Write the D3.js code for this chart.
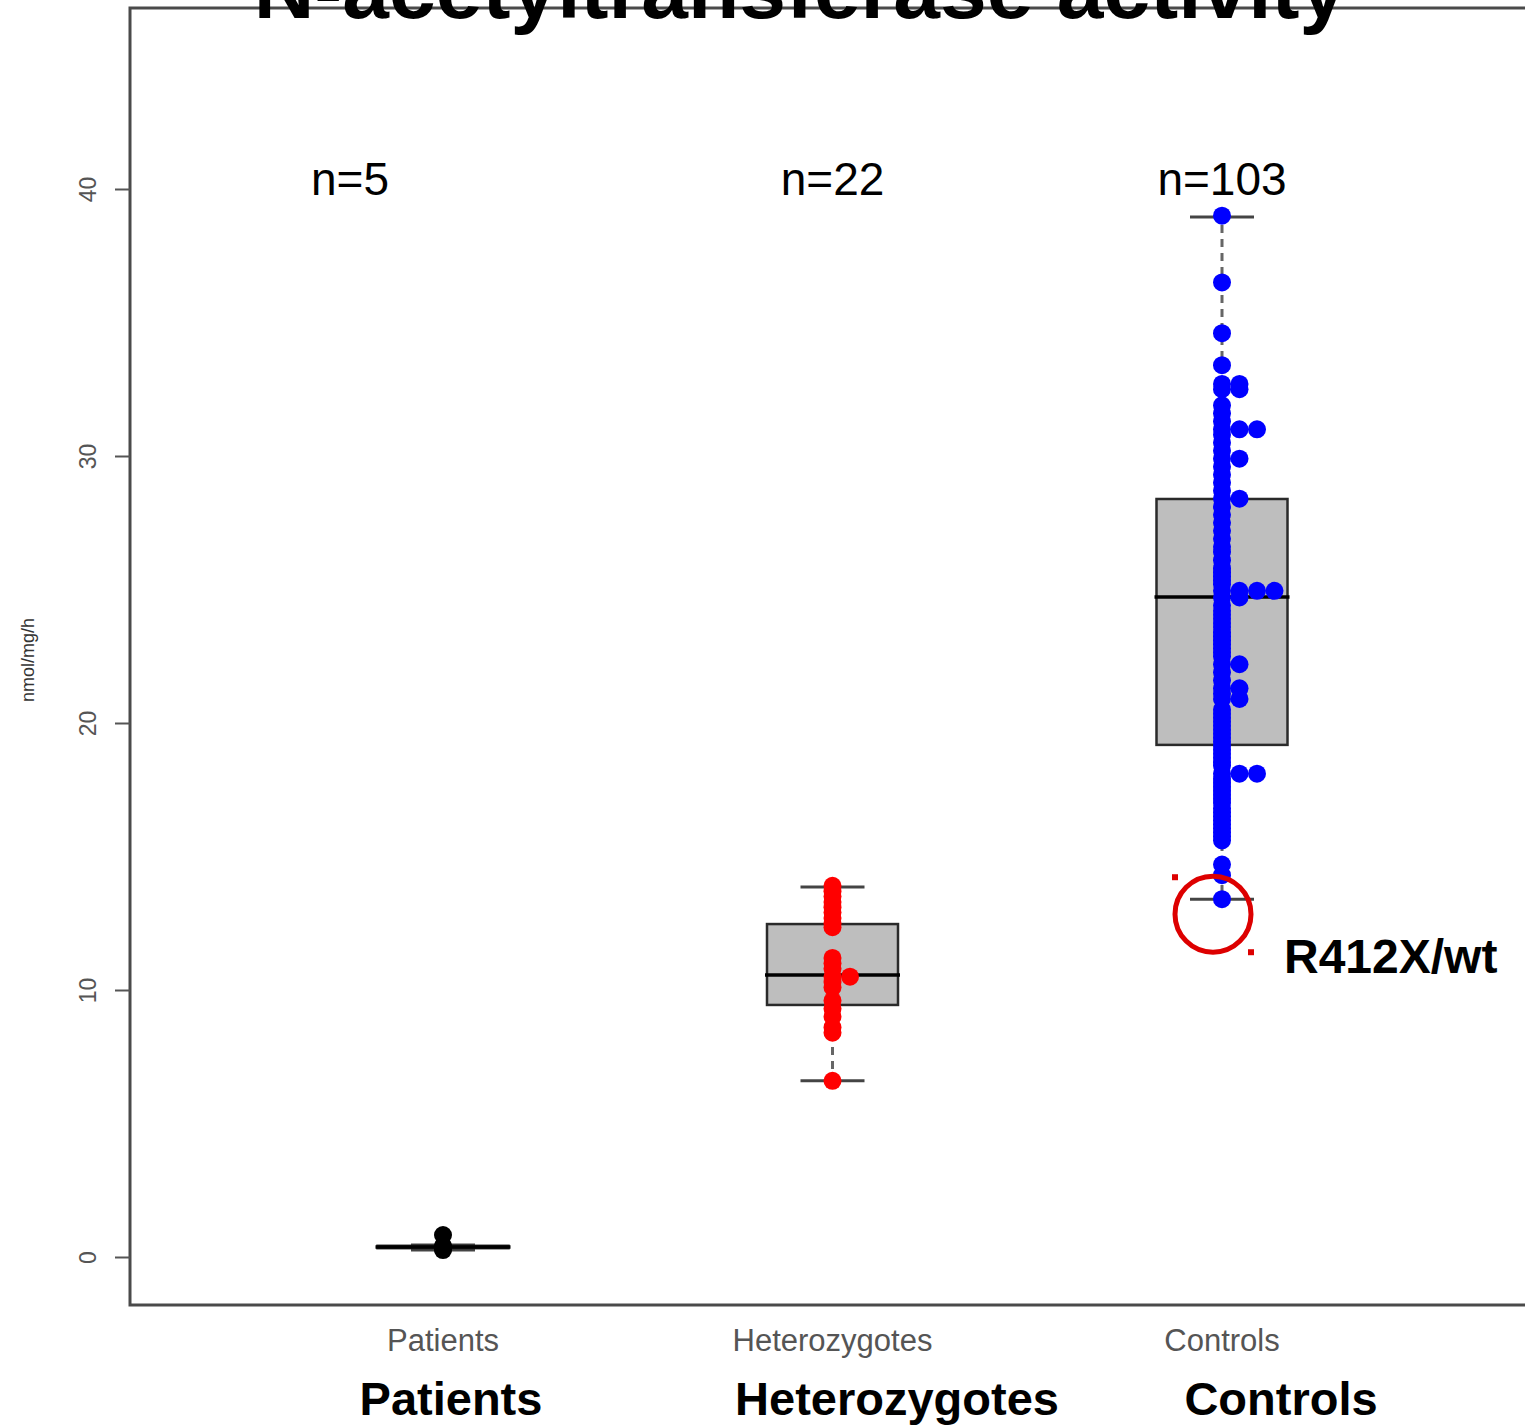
<!DOCTYPE html>
<html>
<head>
<meta charset="utf-8">
<script src="https://cdn.jsdelivr.net/npm/d3@7"></script>
<style>
  html, body { margin: 0; padding: 0; background: #fff; }
  svg { display: block; font-family: "Liberation Sans", Arial, sans-serif; }
</style>
</head>
<body>
<svg id="chart" width="1525" height="1428"></svg>
<script>
"use strict";

// groups and annotations
const groups = ["Patients", "Heterozygotes", "Controls"];
const countLabels = ["n=5", "n=22", "n=103"];
const pointColors = ["#000000", "#ff0000", "#0000ff"];
const yTicks = [0, 10, 20, 30, 40];

// raw values (nmol/mg/h)
const patients = [0.82, 0.42, 0.37, 0.30, 0.26];
const heterozygotes = [
  13.9, 13.7, 13.5, 13.3, 13.1, 12.9, 12.7, 12.5, 12.35,
  11.2, 11.0, 10.8, 10.5, 10.5, 10.3, 10.1, 9.6, 9.3, 9.0, 8.6, 8.4,
  6.6
];
const controls = [
  13.4, 14.3, 14.7,
  15.6, 15.75, 15.9, 16.05, 16.2, 16.35, 16.5, 16.65, 16.8, 17.0, 17.15,
  17.3, 17.45, 17.6, 17.75, 17.9,
  18.1, 18.1, 18.1,
  18.4, 18.55, 18.7, 18.85, 19.0, 19.15, 19.3, 19.45, 19.6, 19.75, 19.9,
  20.05, 20.2, 20.35, 20.5,
  20.9, 20.9, 21.1, 21.3, 21.3, 21.6, 21.9, 22.2, 22.2,
  22.5, 22.65, 22.8, 22.95, 23.1, 23.25, 23.4, 23.6, 23.75, 23.9, 24.05,
  24.2, 24.4,
  24.7, 24.7, 24.95, 24.95, 24.95, 24.95,
  25.2, 25.35, 25.5, 25.65, 25.8, 26.1, 26.4, 26.6, 26.9, 27.2, 27.5,
  27.8, 28.1,
  28.4, 28.4, 28.7, 29.0, 29.3, 29.6, 29.9, 29.9,
  30.2, 30.5, 30.8, 31.0, 31.0, 31.0, 31.3, 31.6, 31.9,
  32.5, 32.5, 32.7, 32.7,
  33.4, 34.6, 36.5, 39.0
];
const groupValues = [patients, heterozygotes, controls];

// box statistics per group
const whiskerLow = [0.26, 6.6, 13.4];
const quart1 = [0.33, 9.44, 19.18];
const medians = [0.37, 10.56, 24.72];
const quart3 = [0.42, 12.47, 28.39];
const whiskerHigh = [0.45, 13.86, 38.95];

const mutantValue = 13.4;
const mutantLabel = "R412X/wt";

const svg = d3.select("#chart");

const x = d3.scalePoint().domain(groups).range([443, 1222]);
const y = d3.scaleLinear().domain([0, 40]).range([1257, 189]);

const boxW = 131, capW = 64, stackStep = 17.5, dotR = 9;

// frame
const frame = svg.append("g")
  .attr("fill", "none")
  .attr("stroke", "#4a4a4a")
  .attr("stroke-width", 3);
frame.append("path").attr("d", "M1525,8H130V1305H1525");

// y axis
const yAxis = svg.append("g")
  .attr("transform", "translate(130,0)")
  .call(d3.axisLeft(y).tickValues(yTicks).tickSize(15).tickPadding(0));
yAxis.select(".domain").remove();
yAxis.selectAll(".tick line").attr("stroke", "#555").attr("stroke-width", 2);
yAxis.selectAll(".tick text")
  .attr("transform", "translate(-42,0) rotate(-90)")
  .attr("x", 0).attr("y", 0).attr("dy", "0.35em")
  .attr("text-anchor", "middle")
  .attr("fill", "#555")
  .style("font-size", "23px")
  .style("font-family", "'Liberation Sans Narrow', 'Liberation Sans', Arial");

svg.append("text")
  .attr("transform", "translate(34,660) rotate(-90)")
  .attr("text-anchor", "middle")
  .attr("fill", "#333")
  .style("font-size", "18px")
  .style("font-family", "'Liberation Sans Narrow', 'Liberation Sans', Arial")
  .text("nmol/mg/h");

// boxplots
const boxes = svg.append("g").selectAll("g")
  .data(groups)
  .join("g")
  .attr("transform", (d) => "translate(" + x(d) + ",0)");

boxes.append("line")
  .attr("y1", (d, i) => y(quart3[i])).attr("y2", (d, i) => y(whiskerHigh[i]))
  .attr("stroke", "#666").attr("stroke-width", 3).attr("stroke-dasharray", "8,6");
boxes.append("line")
  .attr("y1", (d, i) => y(quart1[i])).attr("y2", (d, i) => y(whiskerLow[i]))
  .attr("stroke", "#666").attr("stroke-width", 3).attr("stroke-dasharray", "8,6");
boxes.append("line")
  .attr("x1", -capW / 2).attr("x2", capW / 2)
  .attr("y1", (d, i) => y(whiskerHigh[i])).attr("y2", (d, i) => y(whiskerHigh[i]))
  .attr("stroke", "#444").attr("stroke-width", 3);
boxes.append("line")
  .attr("x1", -capW / 2).attr("x2", capW / 2)
  .attr("y1", (d, i) => y(whiskerLow[i])).attr("y2", (d, i) => y(whiskerLow[i]))
  .attr("stroke", "#444").attr("stroke-width", 3);
boxes.append("rect")
  .attr("x", -boxW / 2).attr("width", boxW)
  .attr("y", (d, i) => y(quart3[i]))
  .attr("height", (d, i) => y(quart1[i]) - y(quart3[i]))
  .attr("fill", "#bebebe").attr("stroke", "#2a2a2a").attr("stroke-width", 2.5);
boxes.append("line")
  .attr("x1", -boxW / 2 - 2).attr("x2", boxW / 2 + 2)
  .attr("y1", (d, i) => y(medians[i])).attr("y2", (d, i) => y(medians[i]))
  .attr("stroke", "#000").attr("stroke-width", 3.5);

// stacked strip points: equal values sit side by side
groups.forEach((g, gi) => {
  const seen = new Map();
  const pts = groupValues[gi].map((v) => {
    const k = seen.get(v) || 0;
    seen.set(v, k + 1);
    return { v: v, k: k };
  });
  svg.append("g").selectAll("circle")
    .data(pts)
    .join("circle")
    .attr("cx", (d) => x(g) + d.k * stackStep)
    .attr("cy", (d) => y(d.v))
    .attr("r", dotR)
    .attr("fill", pointColors[gi]);
});

// n labels
const nX = [350, x("Heterozygotes"), x("Controls")];
svg.append("g").selectAll("text")
  .data(countLabels)
  .join("text")
  .attr("x", (d, i) => nX[i])
  .attr("y", 195)
  .attr("text-anchor", "middle")
  .style("font-size", "46px")
  .text((d) => d);

// category tick labels
svg.append("g").selectAll("text")
  .data(groups)
  .join("text")
  .attr("x", (d) => x(d))
  .attr("y", 1351)
  .attr("text-anchor", "middle")
  .attr("fill", "#555")
  .style("font-size", "31px")
  .text((d) => d);

// big bold labels
const bigX = [451, 897, 1281];
svg.append("g").selectAll("text")
  .data(groups)
  .join("text")
  .attr("x", (d, i) => bigX[i])
  .attr("y", 1415)
  .attr("text-anchor", "middle")
  .style("font-size", "47px")
  .style("font-weight", "bold")
  .text((d) => d);

// mutant annotation
const mx = x("Controls") - 9, my = y(mutantValue) + 15;
svg.append("circle")
  .attr("cx", mx).attr("cy", my).attr("r", 38)
  .attr("fill", "none").attr("stroke", "#dd0000").attr("stroke-width", 5);
svg.append("rect").attr("x", mx - 41).attr("y", my - 40).attr("width", 6).attr("height", 6).attr("fill", "#dd0000");
svg.append("rect").attr("x", mx + 35).attr("y", my + 35).attr("width", 6).attr("height", 6).attr("fill", "#dd0000");
svg.append("text")
  .attr("x", 1284).attr("y", 973)
  .style("font-size", "48px")
  .style("font-weight", "bold")
  .text(mutantLabel);

// title (cut at top)
svg.append("text")
  .attr("x", 800).attr("y", 18)
  .attr("text-anchor", "middle")
  .style("font-size", "84px")
  .style("font-weight", "bold")
  .text("N-acetyltransferase activity");
</script>
</body>
</html>
